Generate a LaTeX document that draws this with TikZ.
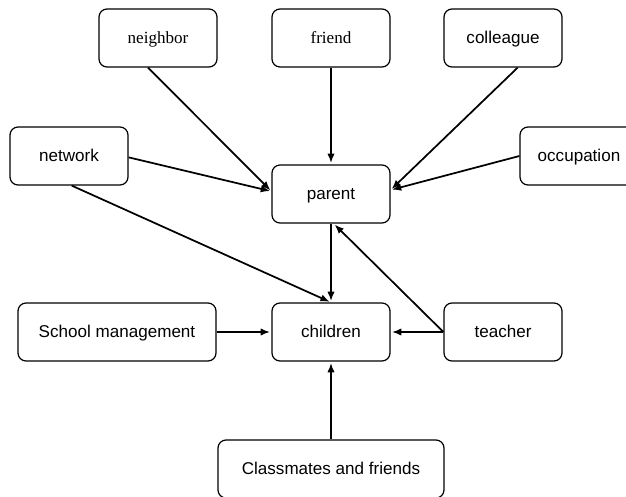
\documentclass[tikz,border=0pt]{standalone}
\usepackage{fontspec}
\setmainfont{Liberation Sans}
\newfontfamily\timesfont{Liberation Serif}
\usepackage{tikz}
\usetikzlibrary{arrows.meta}
\tikzset{>={Latex[length=7pt,width=5.5pt]}}
\tikzset{
	box/.style={
			draw, line width=0.9pt, rounded corners=6pt,
			minimum width=88.5pt, minimum height=43.5pt, inner sep=0pt,
			text height=10pt, text depth=2pt,
			font=\fontsize{12.8pt}{15pt}\selectfont
		},
	link/.style={->, line width=1.3pt, shorten >=1pt}
}

\begin{document}
\begin{tikzpicture}[x=0.75pt, y=-0.75pt]
			% Frame
			\clip (0,0) rectangle (626,497);
			\useasboundingbox (0,0) rectangle (626,497);

			% Boxes
			\node[box] (neighbor) at (158,38) {\timesfont neighbor};
			\node[box] (friend) at (331,38) {\timesfont friend};
			\node[box] (colleague) at (503,38) {colleague};
			\node[box] (network) at (69,156) {network};
			\node[box] (occupation) at (579,156) {occupation};
			\node[box] (parent) at (331,194) {parent};
			\node[box, minimum width=148.5pt] (school) at (117,332) {School management};
			\node[box] (children) at (331,332) {children};
			\node[box] (teacher) at (503,332) {teacher};
			\node[box, minimum width=169.5pt] (classmates) at (331,469) {Classmates and friends};

			% Arrows into parent
			\draw[link] ([xshift=-7.5pt]neighbor.south) -- ([yshift=2pt]parent.west);
			\draw[link] (friend.south) -- (parent.north);
			\draw[link] ([xshift=11pt]colleague.south) -- ([yshift=3pt]parent.east);
			\draw[link] ([yshift=-1pt]network.east) -- ([yshift=2pt]parent.west);
			\draw[link] (occupation.west) -- ([yshift=3pt]parent.east);
			\draw[link] (teacher.west) -- ([xshift=2pt]parent.south);

			% Arrows into children
			\draw[link] ([xshift=2pt]network.south) -- (children.north);
			\draw[link] (parent.south) -- (children.north);
			\draw[link] (teacher.west) -- (children.east);
			\draw[link] (school.east) -- (children.west);
			\draw[link] (classmates.north) -- (children.south);
		\end{tikzpicture}
\end{document}
